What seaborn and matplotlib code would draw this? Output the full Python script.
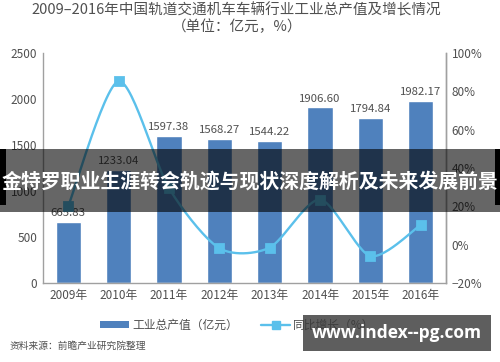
import numpy as np
import pandas as pd
import matplotlib
matplotlib.use("Agg")
import matplotlib.pyplot as plt
import seaborn as sns
from matplotlib.patches import Patch, Rectangle
from matplotlib.lines import Line2D

# chart data
years = ["2009年", "2010年", "2011年", "2012年", "2013年", "2014年", "2015年", "2016年"]
output_value = [665.83, 1233.04, 1597.38, 1568.27, 1544.22, 1906.60, 1794.84, 1982.17]
growth = [20.0, 85.2, 29.5, -1.8, -1.5, 23.5, -5.9, 10.4]
left_ticks = [0, 500, 1000, 1500, 2000, 2500]
right_ticks = [-20, 0, 20, 40, 60, 80, 100]

BAR_BLUE = "#4f81bd"
LINE_BLUE = "#5bc0eb"
TEXT_GRAY = "#505050"


def smooth_curve(xs, ys, steps=30, tension=0.8):
    """Cardinal curve through the points, like an Excel smoothed line."""
    pts = np.column_stack([xs, ys]).astype(float)
    pts = np.vstack([pts[0], pts, pts[-1]])
    out = []
    for i in range(1, len(pts) - 2):
        p0, p1, p2, p3 = pts[i - 1], pts[i], pts[i + 1], pts[i + 2]
        m1 = 0.5 * tension * (p2 - p0)
        m2 = 0.5 * tension * (p3 - p1)
        t = np.linspace(0, 1, steps)[:, None]
        h00 = 2 * t ** 3 - 3 * t ** 2 + 1
        h10 = t ** 3 - 2 * t ** 2 + t
        h01 = -2 * t ** 3 + 3 * t ** 2
        h11 = t ** 3 - t ** 2
        out.append(h00 * p1 + h10 * m1 + h01 * p2 + h11 * m2)
    out = np.vstack(out)
    return out[:, 0], out[:, 1]


sns.set_theme(style="white")
plt.rcParams["font.family"] = ["Noto Sans CJK SC", "DejaVu Sans"]

df = pd.DataFrame({"year": years, "value": output_value, "growth": growth})

fig = plt.figure(figsize=(5, 3.62), dpi=100)
ax = fig.add_axes([0.086, 0.218, 0.806, 0.636])

sns.barplot(data=df, x="year", y="value", color=BAR_BLUE, width=0.5,
            saturation=1, ax=ax)
ax.set_xlim(-0.5, len(years) - 0.5)
ax.set_ylim(0, 2500)
ax.set_yticks(left_ticks)
ax.set_xlabel("")
ax.set_ylabel("")
for i, v in enumerate(output_value):
    ax.text(i, v + 40, f"{v:.2f}", ha="center", va="bottom",
            fontsize=8.2, color=TEXT_GRAY)

ax2 = ax.twinx()
xs = np.arange(len(years))
cx, cy = smooth_curve(xs, growth)
ax2.plot(cx, cy, color=LINE_BLUE, lw=1.7)
sns.scatterplot(x=xs, y=growth, marker="s", s=50, color=LINE_BLUE,
                edgecolor=LINE_BLUE, ax=ax2, zorder=5)
ax2.set_ylim(-20, 100)
ax2.set_yticks(right_ticks)
ax2.set_yticklabels([f"{t}%" if t >= 0 else f"\u2212{-t}%" for t in right_ticks])

for a in (ax, ax2):
    a.spines["top"].set_visible(False)
    for side in ("left", "right", "bottom"):
        a.spines[side].set_color("#a0a0a0")
        a.spines[side].set_linewidth(1)
    a.tick_params(axis="both", labelsize=8.5, colors=TEXT_GRAY, length=0, pad=4)
ax2.spines["left"].set_visible(False)
ax2.spines["bottom"].set_visible(False)

# title
fig.text(0.472, 1 - 10 / 362, "2009–2016年中国轨道交通机车车辆行业工业总产值及增长情况",
         ha="center", va="center", fontsize=10.5, color=TEXT_GRAY)
fig.text(0.474, 1 - 27 / 362, "（单位：亿元，%）", ha="center", va="center",
         fontsize=10.5, color=TEXT_GRAY)

# legend
handles = [Patch(facecolor=BAR_BLUE, edgecolor="none"),
           Line2D([0], [0], color=LINE_BLUE, lw=1.7, marker="s", markersize=6)]
fig.legend(handles, ["工业总产值（亿元）", "同比增长（%）"], loc="center",
           bbox_to_anchor=(0.475, 1 - 325 / 362), ncol=2, frameon=False,
           fontsize=8.5, handlelength=2.4, handleheight=0.5, handletextpad=0.3,
           columnspacing=2.0, labelcolor=TEXT_GRAY)

fig.text(0.02, 1 - 346 / 362, "资料来源：前瞻产业研究院整理", ha="left", va="center",
         fontsize=7, color="#505050")

# dark overlay banner with headline
fig.add_artist(Rectangle((0, 1 - 212 / 362), 1, 63 / 362, transform=fig.transFigure,
                         facecolor="black", alpha=0.6, edgecolor="none", zorder=10))
fig.add_artist(Rectangle((0, 1 - 205 / 362), 0.011, 56 / 362, transform=fig.transFigure,
                         facecolor="black", edgecolor="none", zorder=11))
fig.add_artist(Rectangle((0.989, 1 - 205 / 362), 0.011, 56 / 362, transform=fig.transFigure,
                         facecolor="black", edgecolor="none", zorder=11))
fig.text(0.5, 1 - 181 / 362, "金特罗职业生涯转会轨迹与现状深度解析及未来发展前景",
         ha="center", va="center", fontsize=14.3, fontweight="bold", color="white",
         zorder=12)

# watermark box
fig.add_artist(Rectangle((303 / 500, 1 - 351 / 362), 188 / 500, 36 / 362,
                         transform=fig.transFigure, facecolor="#3a3a3a", alpha=0.82,
                         edgecolor="none", zorder=10))
fig.text(397 / 500, 1 - 333 / 362, "www.index--pg.com", ha="center", va="center",
         fontsize=12.5, fontweight="bold", color="white", zorder=12,
         family=["Open Sans", "DejaVu Sans"])

fig.savefig("out.png", dpi=100)
